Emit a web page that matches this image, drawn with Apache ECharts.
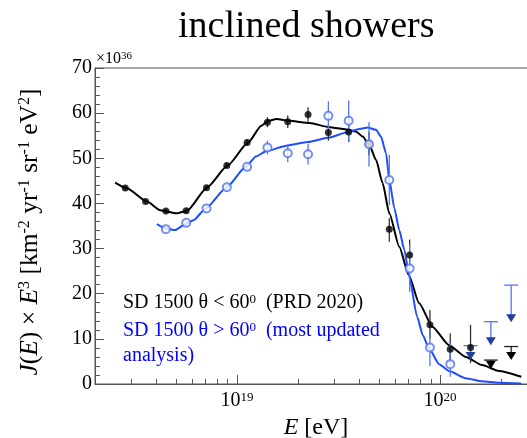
<!DOCTYPE html>
<html><head><meta charset="utf-8">
<script src="https://cdn.jsdelivr.net/npm/echarts@6/dist/echarts.min.js"></script>
<style>html,body{margin:0;padding:0;background:#fff}#c{width:527px;height:438px}</style>
</head><body><div id="c"></div>
<script>
// ---- axes ----
const xMin = 2e18, xMax = 3e20;
const xMajorTicks = [1e19, 1e20];
const xMinorTicks = [3e18,4e18,5e18,6e18,7e18,8e18,9e18,2e19,3e19,4e19,5e19,6e19,7e19,8e19,9e19,2e20,3e20];
const yMin = 0, yMax = 70, yStep = 10;

// ---- SD 1500, theta < 60 (PRD 2020): lg(E/eV), value, lower, upper ----
const blackLgE = [18.45,18.55,18.65,18.75,18.85,18.95,19.05,19.15,19.25,19.35,19.45,19.55,19.65,19.75,19.85,19.95,20.05,20.15];
const blackVal = [43.4,40.4,38.3,38.4,43.5,48.4,53.5,58.0,58.1,59.7,55.7,55.8,53.2,34.3,28.6,13.1,7.7,8.1];
const blackLo  = [42.9,39.9,37.8,37.9,43.0,47.8,52.8,56.9,56.7,58.1,53.9,53.6,50.6,31.5,25.6,10.1,4.2,4.6];
const blackHi  = [43.9,40.9,38.8,38.9,44.0,49.0,54.2,59.1,59.5,61.3,57.5,58.0,55.8,36.7,32.0,16.4,11.2,13.1];
const blackLimLgE = [20.25, 20.35];
const blackLim    = [5.3, 8.3];
const blackLimTip = [3.4, 5.3];

// ---- SD 1500, theta > 60 (most updated analysis) ----
const blueLgE = [18.65,18.75,18.85,18.95,19.05,19.15,19.25,19.35,19.45,19.55,19.65,19.75,19.85,19.95,20.05];
const blueVal = [34.3,35.7,38.9,43.6,48.1,52.4,51.1,50.9,59.4,58.3,53.1,45.2,25.6,8.1,4.4];
const blueLo  = [33.8,35.2,38.4,43.1,47.6,50.9,49.1,48.6,56.2,53.8,48.2,39.6,20.4,4.0,1.6];
const blueHi  = [34.8,36.2,39.4,44.1,48.6,53.9,53.1,53.2,62.6,62.8,58.0,50.8,30.8,11.5,9.2];
const blueLimLgE = [20.15, 20.25, 20.35];
const blueLim    = [8.5, 13.8, 21.9];
const blueLimTip = [5.3, 8.6, 13.7];

// ---- fitted curves ----
const blackFitLgE = [18.40,18.456,18.557,18.623,18.704,18.755,18.854,18.954,19.055,19.12,19.153,19.194,19.26,19.358,19.456,19.538,19.587,19.619,19.652,19.685,19.717,19.75,19.799,19.845,19.897,19.962,20.044,20.126,20.207,20.289,20.40];
const blackFitVal = [44.6,43.4,40.4,38.5,37.8,38.4,43.6,48.4,53.5,57.2,58.3,58.7,58.3,57.8,56.9,56.4,55.9,54.8,52.9,49.6,44.5,37.8,30.4,24.2,17.9,12.7,8.6,6.0,4.2,2.9,1.6];
const blueFitLgE = [18.606,18.647,18.696,18.745,18.786,18.847,18.946,19.044,19.093,19.146,19.244,19.348,19.456,19.538,19.603,19.644,19.685,19.709,19.734,19.75,19.775,19.799,19.824,19.848,19.887,19.915,19.943,19.995,20.044,20.126,20.207,20.289,20.40];
const blueFitVal = [35.4,34.5,34.1,35.4,36.3,38.9,43.4,48.1,50.4,51.6,52.8,53.6,54.6,55.7,56.5,56.8,56.3,54.8,51.1,45.2,38.9,34.1,29.7,23.8,14.9,10.8,8.1,4.4,2.9,1.3,0.6,0.3,0.1];

const E = lg => Math.pow(10, lg);
const pts = (lgs, vals) => lgs.map((l, i) => [E(l), vals[i]]);
const bars = (lgs, lo, hi) => lgs.map((l, i) => [E(l), lo[i], hi[i]]);

const SERIF = 'Liberation Serif';
const AXIS = '#555';
const BLUE_LINE = '#1f4cff', BLUE_PT = '#5474ef', BLUE_TRI = '#23409c';

function errRender(color) {
  return function (params, api) {
    const x = api.value(0);
    const a = api.coord([x, api.value(1)]);
    const b = api.coord([x, api.value(2)]);
    return {type: 'line', shape: {x1: a[0], y1: a[1], x2: b[0], y2: b[1]},
            style: {stroke: color, lineWidth: 1.3}};
  };
}
function limRender(lineColor, triColor) {
  return function (params, api) {
    const x = api.value(0);
    const a = api.coord([x, api.value(1)]);
    const t = api.coord([x, api.value(2)]);
    return {type: 'group', children: [
      {type: 'line', shape: {x1: a[0] - 7, y1: a[1], x2: a[0] + 7, y2: a[1]}, style: {stroke: lineColor, lineWidth: 1.3}},
      {type: 'line', shape: {x1: a[0], y1: a[1], x2: t[0], y2: t[1] - 6}, style: {stroke: lineColor, lineWidth: 1.3}},
      {type: 'polygon', shape: {points: [[t[0] - 5, t[1] - 8], [t[0] + 5, t[1] - 8], [t[0], t[1]]]}, style: {fill: triColor}}
    ]};
  };
}

const chart = echarts.init(document.getElementById('c'), null, {renderer: 'canvas'});
chart.setOption({
  animation: false,
  backgroundColor: '#fff',
  grid: {left: 95, top: 68, width: 442, height: 316, outerBoundsMode: 'none', containLabel: false,
         show: true, borderColor: AXIS, borderWidth: 1, backgroundColor: 'transparent'},
  xAxis: [{
    type: 'log', min: xMin, max: xMax,
    axisLine: {lineStyle: {color: AXIS}},
    splitLine: {show: false},
    axisTick: {inside: true, length: 9, customValues: xMajorTicks, lineStyle: {color: AXIS}},
    axisLabel: {customValues: xMajorTicks, margin: 7,
      formatter: v => '{b|10}{s|' + Math.round(Math.log10(v)) + '}',
      rich: {b: {fontFamily: SERIF, fontSize: 20, color: '#000'},
             s: {fontFamily: SERIF, fontSize: 13, color: '#000', verticalAlign: 'top'}}},
    name: '{i|E} [eV]', nameLocation: 'middle', nameGap: 29,
    nameTextStyle: {fontFamily: SERIF, fontSize: 24, color: '#000',
      rich: {i: {fontFamily: SERIF, fontStyle: 'italic', fontSize: 24, color: '#000'}}}
  }, {
    type: 'log', min: xMin, max: xMax, position: 'bottom',
    axisLine: {show: false}, splitLine: {show: false}, axisLabel: {show: false},
    axisTick: {inside: true, length: 5, customValues: xMinorTicks, lineStyle: {color: AXIS}}
  }],
  yAxis: {
    type: 'value', min: yMin, max: yMax, interval: yStep,
    axisLine: {show: true, lineStyle: {color: AXIS}},
    splitLine: {show: false},
    axisTick: {inside: true, length: 9, lineStyle: {color: AXIS}},
    minorTick: {show: true, splitNumber: 5, length: 5, lineStyle: {color: AXIS}},
    axisLabel: {fontFamily: SERIF, fontSize: 20, color: '#000', margin: 3},
    name: '{i|J}({i|E}) × {i|E}{s|3} [km{s|-2} yr{s|-1} sr{s|-1} eV{s|2}]',
    nameLocation: 'middle', nameRotate: 90, nameGap: 52,
    nameTextStyle: {fontFamily: SERIF, fontSize: 25.5, color: '#000', padding: [0, 12, 0, 0],
      rich: {i: {fontFamily: SERIF, fontStyle: 'italic', fontSize: 25.5, color: '#000'},
             s: {fontFamily: SERIF, fontSize: 16, color: '#000', verticalAlign: 'top'}}}
  },
  graphic: [
    {type: 'text', left: 178, top: 8, z: 10,
     style: {text: 'inclined showers', fontFamily: SERIF, fontSize: 38, fill: '#000'}},
    {type: 'text', left: 96, top: 51, z: 10,
     style: {text: '{a|×10}{s|36}', rich: {a: {fontFamily: SERIF, fontSize: 16, fill: '#000'}, s: {fontFamily: SERIF, fontSize: 11, fill: '#000', verticalAlign: 'top'}}}},
    {type: 'text', left: 123, top: 293, z: 10,
     style: {text: '{n|SD 1500 θ < 60}{s|0}{n|  (PRD 2020)}', rich: {n: {fontFamily: SERIF, fontSize: 20, fill: '#000'}, s: {fontFamily: SERIF, fontSize: 13, fill: '#000', verticalAlign: 'top'}}}},
    {type: 'text', left: 123, top: 321, z: 10,
     style: {text: '{n|SD 1500 θ > 60}{s|0}{n|  (most updated}', rich: {n: {fontFamily: SERIF, fontSize: 20, fill: '#0000ff'}, s: {fontFamily: SERIF, fontSize: 13, fill: '#0000ff', verticalAlign: 'top'}}}},
    {type: 'text', left: 123, top: 346, z: 10,
     style: {text: 'analysis)', fontFamily: SERIF, fontSize: 20, fill: '#0000ff'}}
  ],
  series: [
    {type: 'line', name: 'blackFit', data: pts(blackFitLgE, blackFitVal), showSymbol: false, smooth: 0.2, smoothMonotone: 'x',
     lineStyle: {color: '#000', width: 2}, z: 3},
    {type: 'line', name: 'blueFit', data: pts(blueFitLgE, blueFitVal), showSymbol: false, smooth: 0.2, smoothMonotone: 'x',
     lineStyle: {color: BLUE_LINE, width: 2}, z: 3},
    {type: 'custom', name: 'blackErr', data: bars(blackLgE, blackLo, blackHi), renderItem: errRender('#333'), encode: {x: 0, y: [1, 2]}, z: 4},
    {type: 'custom', name: 'blueErr', data: bars(blueLgE, blueLo, blueHi), renderItem: errRender(BLUE_PT), encode: {x: 0, y: [1, 2]}, z: 4},
    {type: 'custom', name: 'blackLim', data: bars(blackLimLgE, blackLim, blackLimTip), renderItem: limRender('#222', '#000'), encode: {x: 0, y: [1, 2]}, z: 4},
    {type: 'custom', name: 'blueLim', data: bars(blueLimLgE, blueLim, blueLimTip), renderItem: limRender(BLUE_PT, BLUE_TRI), encode: {x: 0, y: [1, 2]}, z: 4},
    {type: 'scatter', name: 'black', data: pts(blackLgE, blackVal), symbol: 'circle', symbolSize: 7, itemStyle: {color: '#000'}, z: 5},
    {type: 'scatter', name: 'blue', data: pts(blueLgE, blueVal), symbol: 'emptyCircle', symbolSize: 8, itemStyle: {color: BLUE_PT, borderWidth: 1.2}, z: 5}
  ]
});
</script></body></html>
